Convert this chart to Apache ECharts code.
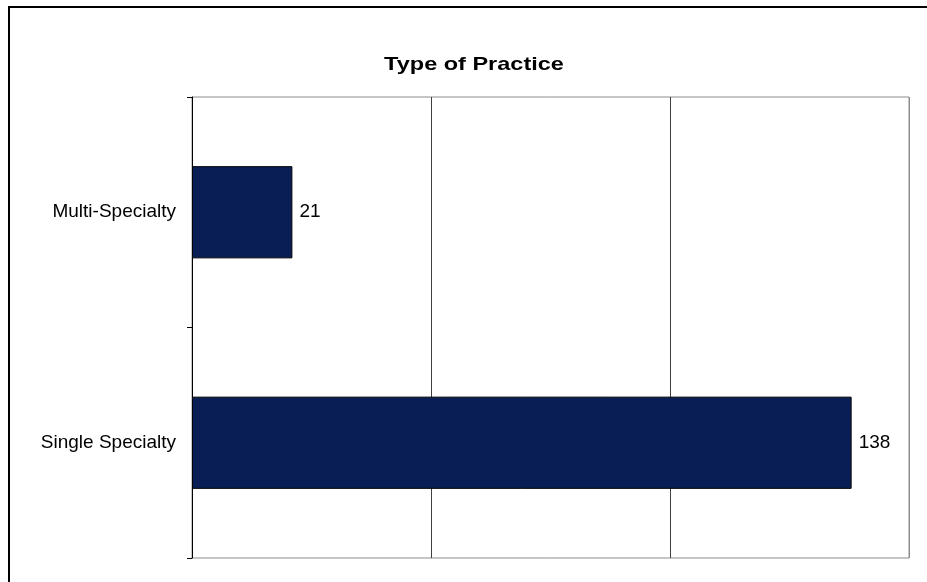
<!DOCTYPE html>
<html>
<head>
<meta charset="utf-8">
<script src="https://cdn.jsdelivr.net/npm/echarts@6/dist/echarts.min.js"></script>
<style>html,body{margin:0;padding:0;background:#fff}#c{width:927px;height:582px}</style>
</head>
<body>
<div id="c"></div>
<script>
const categories = ['Multi-Specialty', 'Single Specialty'];
const counts = [21, 138];
const titleText = 'Type of Practice';

const chart = echarts.init(document.getElementById('c'));
chart.setOption({
  backgroundColor: '#fff',
  animation: false,
  textStyle: { fontFamily: 'Liberation Sans, Arial, sans-serif' },
  graphic: [
    { type: 'rect', shape: { x: 9, y: 7, width: 1000, height: 1000 }, style: { fill: 'none', stroke: '#000', lineWidth: 2 }, z: 100 },
    { type: 'text', x: 474, y: 65, scaleX: 1.27, style: { text: titleText, font: 'bold 18.5px "Liberation Sans", Arial, sans-serif', fill: '#000', align: 'center', verticalAlign: 'middle' } }
  ],
  grid: { left: 192, right: 18, top: 97, bottom: 24, show: true, borderColor: '#8c8c8c', borderWidth: 1 },
  xAxis: {
    type: 'value', min: 0, max: 150, interval: 50,
    axisLabel: { show: false }, axisTick: { show: false }, axisLine: { show: false },
    splitLine: { show: true, lineStyle: { color: ['#8c8c8c', '#404040', '#404040', '#8c8c8c'], width: 1 } }
  },
  yAxis: {
    type: 'category', data: categories, inverse: true,
    axisLine: { show: true, lineStyle: { color: '#000', width: 1 } },
    axisTick: { show: true, length: 5, lineStyle: { color: '#000' } },
    axisLabel: { color: '#000', fontSize: 19, margin: 16 }
  },
  series: [{
    type: 'bar', data: counts, barCategoryGap: '60%',
    itemStyle: { color: '#0A1E56', borderColor: '#000', borderWidth: 1 },
    label: { show: true, position: 'right', distance: 7, color: '#000', fontSize: 19 }
  }]
});
</script>
</body>
</html>
